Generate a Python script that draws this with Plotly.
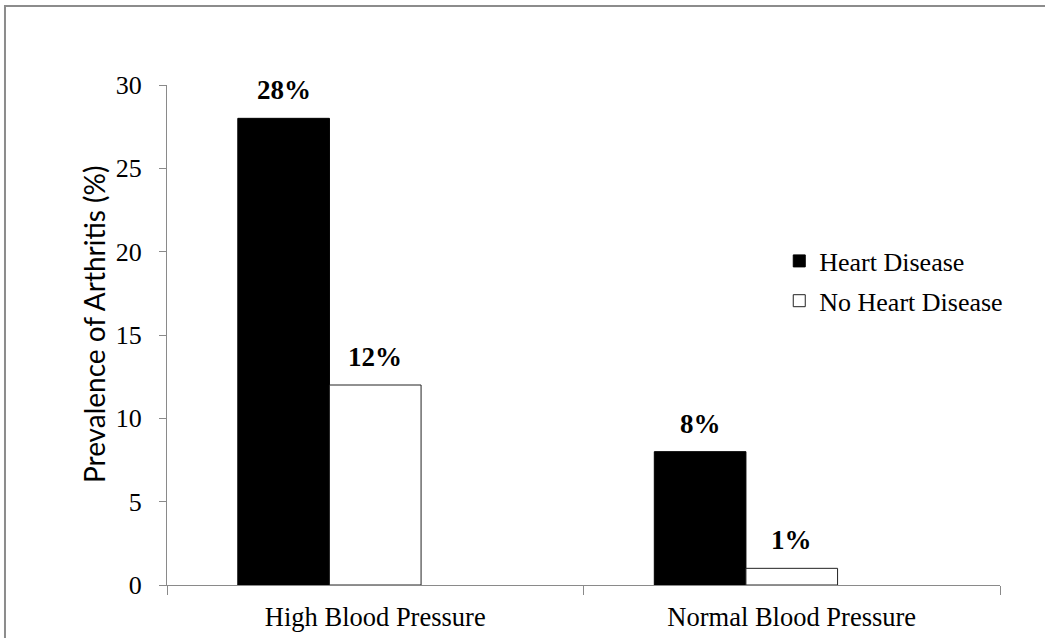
import plotly.graph_objects as go

# Data
categories = ["High Blood Pressure", "Normal Blood Pressure"]
series_names = ["Heart Disease", "No Heart Disease"]
heart_disease = [28, 8]
no_heart_disease = [12, 1]
y_ticks = [0, 5, 10, 15, 20, 25, 30]

SERIF = "Liberation Serif, Times New Roman, serif"
AXIS_GRAY = "#8a8a8a"

# Each category holds three equal slots; the two series occupy the first two.
BAR_W = 0.22
SLOT_START = -1.5 * BAR_W

fig = go.Figure()

series_styles = [
    dict(fill="black", line="black"),
    dict(fill="white", line="#222222"),
]
series_values = [heart_disease, no_heart_disease]

for k, (name, vals, style) in enumerate(zip(series_names, series_values, series_styles)):
    offset = SLOT_START + k * BAR_W
    fig.add_trace(go.Bar(
        name=name,
        x=categories,
        y=vals,
        width=BAR_W,
        offset=offset,
        marker=dict(color=style["fill"], line=dict(color=style["line"], width=1)),
        legendgroup=name,
        hoverinfo="skip",
    ))
    # value labels above each bar
    for i, v in enumerate(vals):
        fig.add_annotation(
            x=i + offset + BAR_W / 2, y=v, xref="x", yref="y",
            text=f"<b>{v}%</b>", showarrow=False,
            yanchor="bottom", yshift=11,
            font=dict(family=SERIF, size=27, color="black"),
        )

# y-axis title
fig.add_annotation(
    x=-0.0876, y=0.52, xref="paper", yref="paper",
    text="Prevalence of Arthritis (%)", textangle=-90, showarrow=False,
    xanchor="center", yanchor="middle",
    font=dict(family="Lato, Calibri, sans-serif", size=28, color="black"),
)

# outer chart frame
fig.add_shape(
    type="rect", xref="paper", yref="paper",
    x0=-0.1945, y0=-0.14, x1=1.08, y1=1.158,
    line=dict(color="#8c8c8c", width=2), fillcolor="rgba(0,0,0,0)",
    layer="below",
)

fig.update_layout(
    width=1045, height=638,
    margin=dict(l=167, r=45, t=85, b=53, autoexpand=False),
    paper_bgcolor="white", plot_bgcolor="white",
    barmode="overlay",
    showlegend=True,
    legend=dict(
        x=0.735, y=0.695, xanchor="left", yanchor="top",
        font=dict(family=SERIF, size=26, color="black"),
        traceorder="grouped", tracegroupgap=3,
        bgcolor="rgba(0,0,0,0)", borderwidth=0,
        itemwidth=30,
    ),
    xaxis=dict(
        type="category", range=[-0.5, 1.5], automargin=False,
        showline=True, linecolor=AXIS_GRAY, linewidth=1,
        ticks="outside", tickson="boundaries", ticklen=9, tickcolor=AXIS_GRAY,
        tickfont=dict(family=SERIF, size=26.5, color="black"),
        ticklabelstandoff=8,
        showgrid=False, zeroline=False, fixedrange=True,
    ),
    yaxis=dict(
        range=[0, 30], tickvals=y_ticks, automargin=False,
        showline=True, linecolor=AXIS_GRAY, linewidth=1,
        ticks="outside", ticklen=7, tickcolor=AXIS_GRAY,
        tickfont=dict(family=SERIF, size=26, color="black"),
        ticklabelstandoff=12,
        showgrid=False, zeroline=False, fixedrange=True,
    ),
)

fig.write_html("out.html")
